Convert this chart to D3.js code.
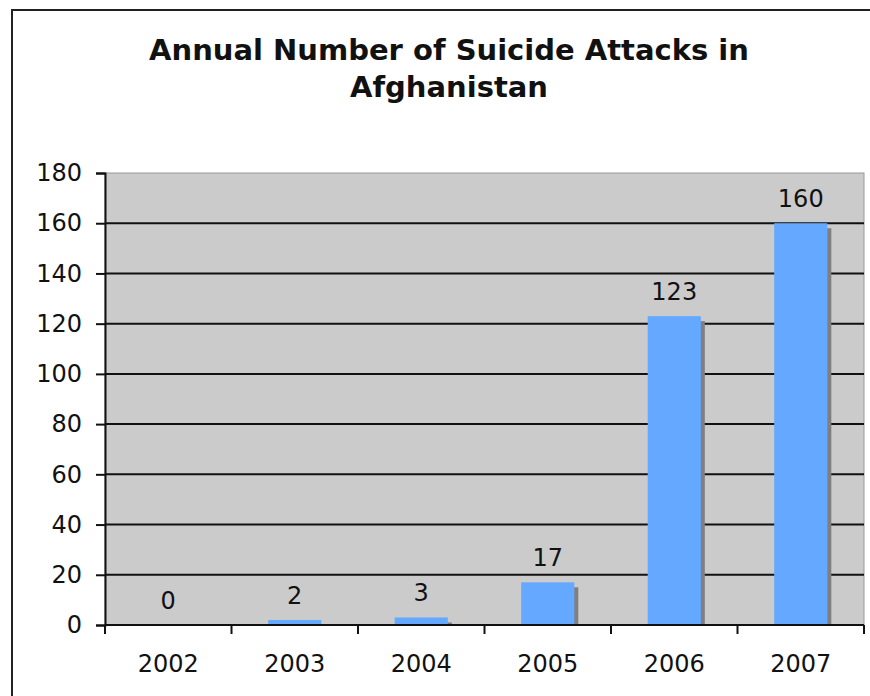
<!DOCTYPE html>
<html>
<head>
<meta charset="utf-8">
<script src="https://cdn.jsdelivr.net/npm/d3@7"></script>
<style>
    body { margin: 0; background: #fff; }
    text { font-family: 'DejaVu Sans', Verdana, sans-serif; fill: #111; }
</style>
</head>
<body>
<div id="chart"></div>
<script>
const years = ['2002', '2003', '2004', '2005', '2006', '2007'];
const attacks = [0, 2, 3, 17, 123, 160];
const yTicks = [0, 20, 40, 60, 80, 100, 120, 140, 160, 180];
const titleLines = ['Annual Number of Suicide Attacks in', 'Afghanistan'];

const width = 870;
const height = 696;
const margin = { top: 173, right: 6, bottom: 71, left: 105 };

const svg = d3.select('#chart')
    .append('svg')
    .attr('width', width)
    .attr('height', height);

// outer chart frame (right/bottom edges fall outside the picture)
svg.append('rect')
    .attr('x', 12)
    .attr('y', 10)
    .attr('width', 900)
    .attr('height', 720)
    .attr('fill', 'none')
    .attr('stroke', '#222')
    .attr('stroke-width', 2);

svg.append('text')
    .attr('text-anchor', 'middle')
    .attr('font-weight', 'bold')
    .attr('font-size', 29)
    .selectAll('tspan')
    .data(titleLines)
    .join('tspan')
    .attr('x', 449)
    .attr('y', (d, i) => 60 + i * 37)
    .text(d => d);

const x = d3.scaleBand()
    .domain(years)
    .range([margin.left, width - margin.right])
    .padding(0);

const y = d3.scaleLinear()
    .domain([0, 180])
    .range([height - margin.bottom, margin.top]);

// plot area
svg.append('rect')
    .attr('x', margin.left)
    .attr('y', y(180))
    .attr('width', width - margin.right - margin.left)
    .attr('height', y(0) - y(180))
    .attr('fill', '#cbcbcb')
    .attr('stroke', '#9a9a9a')
    .attr('stroke-width', 1);

svg.append('g')
    .selectAll('line')
    .data(yTicks.filter(d => d > 0 && d < 180))
    .join('line')
    .attr('x1', margin.left)
    .attr('x2', width - margin.right)
    .attr('y1', d => y(d))
    .attr('y2', d => y(d))
    .attr('stroke', '#111')
    .attr('stroke-width', 2);

const barW = x.bandwidth() * 0.42;
const bars = svg.append('g')
    .selectAll('g')
    .data(years.map((yr, i) => ({ year: yr, value: attacks[i] })))
    .join('g');

// drop shadow
bars.append('rect')
    .attr('x', d => x(d.year) + (x.bandwidth() - barW) / 2 + 4)
    .attr('y', d => Math.min(y(d.value) + 5, y(0)))
    .attr('width', barW)
    .attr('height', d => Math.max(0, y(0) - y(d.value) - 5))
    .attr('fill', '#7f7f7f');

bars.append('rect')
    .attr('x', d => x(d.year) + (x.bandwidth() - barW) / 2)
    .attr('y', d => y(d.value))
    .attr('width', barW)
    .attr('height', d => y(0) - y(d.value))
    .attr('fill', '#64a9ff');

bars.append('text')
    .attr('x', d => x(d.year) + x.bandwidth() / 2)
    .attr('y', d => y(d.value) - 16)
    .attr('text-anchor', 'middle')
    .attr('font-size', 24)
    .text(d => d.value);

const yAxis = svg.append('g')
    .attr('transform', `translate(${margin.left},0)`)
    .call(d3.axisLeft(y).tickValues(yTicks).tickSize(9).tickPadding(14));

const xAxis = svg.append('g')
    .attr('transform', `translate(0,${y(0)})`)
    .call(d3.axisBottom(x).tickSize(0).tickPadding(30));

// category boundary ticks
svg.append('g')
    .selectAll('line')
    .data(years.map(d => x(d)).concat([x(years[years.length - 1]) + x.bandwidth()]))
    .join('line')
    .attr('x1', d => d)
    .attr('x2', d => d)
    .attr('y1', y(0))
    .attr('y2', y(0) + 9)
    .attr('stroke', '#111')
    .attr('stroke-width', 2);

[yAxis, xAxis].forEach(g => {
    g.select('.domain').attr('stroke', '#111').attr('stroke-width', 2);
    g.selectAll('.tick line').attr('stroke', '#111').attr('stroke-width', 2);
    g.selectAll('.tick text')
        .attr('font-size', 24)
        .attr('font-family', "'DejaVu Sans', Verdana, sans-serif")
        .attr('fill', '#111');
});
xAxis.select('.domain').attr('d', `M${margin.left},0H${width - margin.right}`);
</script>
</body>
</html>
